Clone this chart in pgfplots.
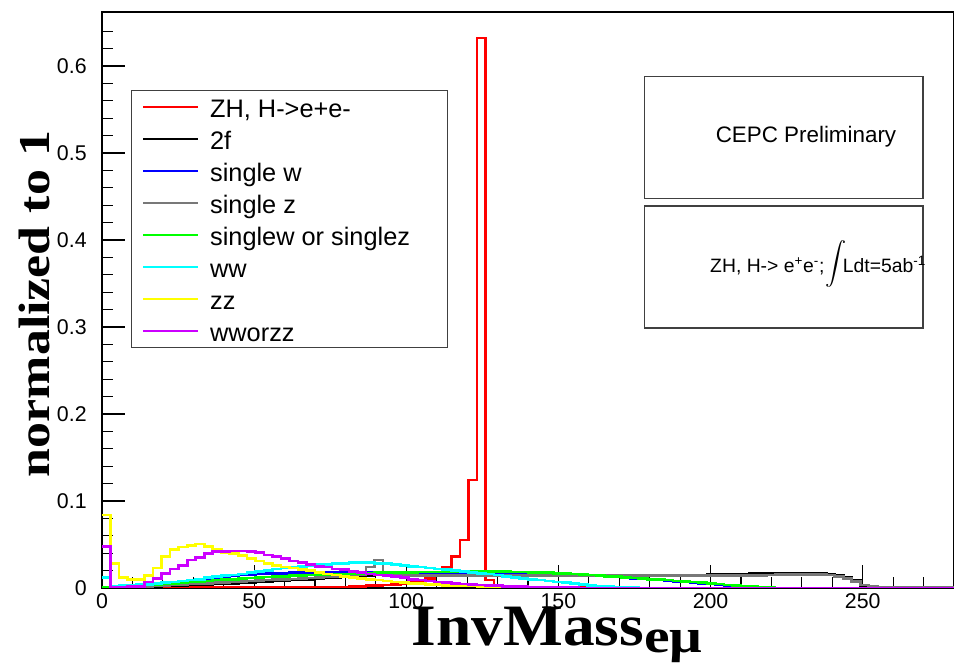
\documentclass[border=0pt]{standalone}
\usepackage{fontspec}
\usepackage{amsmath}
\usepackage{graphicx}
\setmainfont{Liberation Sans}
\newfontfamily\timesfont{Liberation Serif}
\usepackage{pgfplots}
\usepackage{pgfplotstable}
\pgfplotsset{compat=1.18}

\definecolor{hred}{HTML}{FF0000}
\definecolor{hblue}{HTML}{0000FF}
\definecolor{hgray}{HTML}{787878}
\definecolor{hgreen}{HTML}{00FF00}
\definecolor{hcyan}{HTML}{00FFFF}
\definecolor{hyellow}{HTML}{FFFF00}
\definecolor{hviolet}{HTML}{CC00FF}

% bins of 2.8 GeV, low edge in x; last row closes the outline at 280
\pgfplotstableread{
x     zh     ff     sw     sz     swz    ww     zz     wwzz
0     0      .0002  .0003  .0003  .0005  .012   .084   .0475
2.8   0      .0004  .001   .0006  .001   .002   .028   .001
5.6   0      .0007  .0015  .001   .0015  .003   .012   .001
8.4   0      .001   .002   .0013  .002   .003   .010   .002
11.2  0      .0013  .003   .0017  .003   .004   .010   .002
14    0      .0016  .004   .002   .0035  .004   .014   .007
16.8  0      .002   .005   .0025  .004   .005   .023   .011
19.6  0      .0023  .006   .003   .005   .006   .036   .017
22.4  0      .0027  .007   .0035  .0055  .007   .044   .022
25.2  0      .003   .008   .004   .006   .008   .047   .026
28    .0003  .0034  .009   .0045  .007   .009   .049   .032
30.8  .0003  .0038  .010   .005   .0075  .010   .0505  .035
33.6  .0003  .0042  .011   .0055  .008   .012   .048   .040
36.4  .0003  .0046  .012   .006   .009   .013   .044   .042
39.2  .0003  .005   .013   .0065  .0095  .014   .041   .042
42    .0003  .0055  .014   .007   .010   .015   .040   .0425
44.8  .0003  .006   .015   .0075  .011   .016   .037   .0425
47.6  .0003  .0065  .0155  .008   .0115  .018   .034   .042
50.4  .0003  .007   .016   .0085  .012   .019   .031   .041
53.2  .0003  .0075  .0165  .009   .0125  .020   .028   .038
56    .0003  .008   .017   .0095  .013   .022   .026   .036
58.8  .0003  .0085  .017   .010   .0135  .023   .024   .034
61.6  .0003  .009   .0175  .0105  .014   .024   .023   .031
64.4  .0003  .0095  .0175  .011   .0145  .025   .021   .029
67.2  .0003  .010   .0175  .0115  .015   .026   .020   .027
70    .0003  .011   .0175  .012   .015   .027   .018   .025
72.8  .0008  .0115  .0175  .0125  .0155  .027   .016   .024
75.6  .001   .012   .0175  .013   .016   .028   .015   .022
78.4  .0012  .0125  .0175  .0135  .016   .028   .013   .021
81.2  .0015  .013   .0175  .014   .0165  .029   .012   .019
84    .002   .0135  .0175  .015   .017   .029   .011   .018
86.8  .0025  .014   .0175  .024   .017   .029   .010   .016
89.6  .003   .0155  .0175  .032   .0175  .028   .009   .015
92.4  .0035  .0145  .0175  .017   .0175  .028   .008   .014
95.2  .004   .0145  .0178  .014   .018   .027   .007   .013
98    .005   .015   .018   .014   .018   .026   .006   .012
100.8 .006   .015   .018   .014   .018   .025   .005   .010
103.6 .008   .015   .018   .014   .0185  .024   .005   .009
106.4 .011   .015   .018   .014   .0185  .023   .004   .008
109.2 .014   .015   .018   .014   .0185  .022   .004   .007
112   .024   .015   .018   .014   .019   .021   .003   .006
114.8 .036   .015   .018   .014   .019   .020   .003   .005
117.6 .055   .015   .018   .014   .019   .019   .003   .0045
120.4 .124   .015   .018   .014   .019   .018   .003   .004
123.2 .632   .015   .018   .014   .019   .017   .002   .0035
126   .009   .015   .018   .014   .019   .016   .002   .003
128.8 .002   .015   .018   .014   .019   .015   .002   .003
131.6 .001   .015   .018   .014   .019   .013   .002   .002
134.4 .0005  .015   .018   .014   .0185  .012   .001   .002
137.2 .0003  .015   .018   .014   .0185  .011   .001   .0015
140   .0003  .015   .0178  .014   .018   .010   .001   .001
142.8 .0003  .015   .0175  .014   .018   .009   .001   .001
145.6 .0003  .015   .017   .014   .0175  .008   .0005  .001
148.4 .0003  .015   .0165  .014   .017   .007   .0005  .001
151.2 .0003  .015   .016   .014   .0165  .006   0      .0005
154   .0003  .015   .0155  .014   .016   .005   0      .0005
156.8 .0003  .015   .015   .014   .0155  .004   0      0
159.6 .0003  .015   .0145  .014   .015   .003   0      0
162.4 .0003  .015   .014   .014   .014   .002   0      0
165.2 .0003  .015   .013   .014   .0135  .0015  0      0
168   0      .015   .0125  .014   .013   .001   0      0
170.8 0      .015   .012   .014   .012   .001   0      0
173.6 0      .015   .011   .014   .0115  .0005  0      0
176.4 0      .015   .0105  .014   .011   0      0      0
179.2 0      .015   .0095  .014   .010   0      0      0
182   0      .015   .009   .014   .0095  0      0      0
184.8 0      .015   .008   .014   .009   0      0      0
187.6 0      .015   .0075  .014   .008   0      0      0
190.4 0      .015   .007   .014   .0075  0      0      0
193.2 0      .015   .006   .014   .007   0      0      0
196   0      .015   .0055  .014   .006   0      0      0
198.8 0      .0152  .0045  .0143  .005   0      0      0
201.6 0      .0155  .004   .0143  .0045  0      0      0
204.4 0      .0158  .003   .0143  .0035  0      0      0
207.2 0      .016   .0025  .0143  .003   0      0      0
210   0      .0162  .002   .0143  .002   0      0      0
212.8 0      .0165  .001   .0143  .0015  0      0      0
215.6 0      .0168  .0005  .0146  .001   0      0      0
218.4 0      .017   0      .015   .0003  0      0      0
221.2 0      .017   0      .0155  0      0      0      0
224   0      .0172  0      .0155  0      0      0      0
226.8 0      .0172  0      .0155  0      0      0      0
229.6 0      .0172  0      .0155  0      0      0      0
232.4 0      .017   0      .0155  0      0      0      0
235.2 0      .0168  0      .0155  0      0      0      0
238   0      .016   0      .015   0      0      0      0
240.8 0      .0148  0      .0135  0      0      0      0
243.6 0      .0125  0      .011   0      0      0      0
246.4 0      .0085  0      .0075  0      0      0      0
249.2 0      .003   0      .0035  0      0      0      0
252   0      .0015  0      .0015  0      0      0      0
254.8 0      .001   0      .001   0      0      0      0
257.6 0      .0008  0      .0007  0      0      0      0
260.4 0      .0006  0      .0005  0      0      0      0
263.2 0      .0004  0      .0003  0      0      0      0
266   0      .0003  0      .0003  0      0      0      0
268.8 0      .0002  0      .0003  0      0      0      0
271.6 0      .0002  0      .0003  0      0      0      0
274.4 0      .0001  0      .0003  0      0      0      0
277.2 0      .0001  0      .0003  0      0      0      0
280   0      .0001  0      .0003  0      0      0      0
}\hists

\newcommand{\legtext}[1]{\rule[-4.5pt]{0pt}{24pt}\makebox[170pt][l]{#1}}

\begin{document}
\begin{tikzpicture}
\useasboundingbox (-76.5pt,-56.25pt) rectangle (639pt,441pt);
\begin{axis}[
    scale only axis, width=639pt, height=432pt,
    xmin=0, xmax=280, ymin=0, ymax=0.662,
    axis line style={line width=1pt},
    tick align=inside, xtick pos=left, ytick pos=left,
    xtick={0,50,100,150,200,250}, minor xtick={10,20,...,270},
    ytick={0,0.1,0.2,0.3,0.4,0.5,0.6},
    minor ytick={0.02,0.04,0.06,0.08,0.12,0.14,0.16,0.18,0.22,0.24,0.26,0.28,0.32,0.34,0.36,0.38,0.42,0.44,0.46,0.48,0.52,0.54,0.56,0.58,0.62,0.64},
    major tick length=17pt, minor tick length=8.5pt,
    tick style={line width=0.9pt, black},
    /pgf/number format/assume math mode=true,
    ticklabel style={font=\fontsize{16}{18}\selectfont},
    yticklabel style={/pgf/number format/fixed, /pgf/number format/precision=1, xshift=-8pt},
    xticklabel style={yshift=-1pt},
    scaled y ticks=false,
    xlabel={\scalebox{1.08}[1]{InvMass}\raisebox{-0.12em}{\fontsize{36}{36}\selectfont\scalebox{1.2}[1]{eμ}}},
    xlabel style={at={(axis description cs:0.534,-0.099)}, anchor=base, font=\timesfont\bfseries\fontsize{44}{46}\selectfont},
    ylabel={\scalebox{1.18}[1]{normalized to 1}},
    ylabel style={at={(axis description cs:-0.0795,0.493)}, anchor=center, font=\timesfont\bfseries\fontsize{33}{35}\selectfont},
    every axis plot/.append style={const plot, line width=2pt, mark=none},
    legend cell align=left,
    legend image code/.code={\draw[#1, line width=2pt] (0pt,0pt) -- (41pt,0pt) (49pt,0pt);},
    legend style={at={(0.034,0.8646)}, anchor=north west, draw=black!75, line width=0.8pt,
        inner xsep=8pt, inner ysep=0.4pt, row sep=0pt, nodes={inner sep=0pt, text depth=4.5pt},
        font=\fontsize{19}{24}\selectfont},
]
\addplot[hred] table[x=x, y=zh] {\hists};
\addlegendentry{\legtext{ZH, H->e+e-}}
\addplot[black] table[x=x, y=ff] {\hists};
\addlegendentry{\legtext{2f}}
\addplot[hblue] table[x=x, y=sw] {\hists};
\addlegendentry{\legtext{single w}}
\addplot[hgray] table[x=x, y=sz] {\hists};
\addlegendentry{\legtext{single z}}
\addplot[hgreen] table[x=x, y=swz] {\hists};
\addlegendentry{\legtext{singlew or singlez}}
\addplot[hcyan] table[x=x, y=ww] {\hists};
\addlegendentry{\legtext{ww}}
\addplot[hyellow] table[x=x, y=zz] {\hists};
\addlegendentry{\legtext{zz}}
\addplot[hviolet] table[x=x, y=wwzz] {\hists};
\addlegendentry{\legtext{wworzz}}

\draw[black!75, line width=0.8pt] (rel axis cs:0.637,0.677) rectangle (rel axis cs:0.9636,0.8872);
\node[font=\fontsize{16.8}{19}\selectfont] at (rel axis cs:0.8263,0.783) {CEPC Preliminary};
\draw[black!75, line width=0.8pt] (rel axis cs:0.637,0.4514) rectangle (rel axis cs:0.9636,0.6632);
\node[anchor=west, inner sep=0pt, font=\fontsize{14.5}{17}\selectfont] at (rel axis cs:0.7136,0.562)
    {ZH, H-> e\textsuperscript{+}e\textsuperscript{-};\hspace{1pt}\raisebox{2pt}{\scalebox{1.1}{$\displaystyle\int$}}\hspace{-3pt}Ldt=5ab\textsuperscript{-1}};
\end{axis}
\end{tikzpicture}
\end{document}
